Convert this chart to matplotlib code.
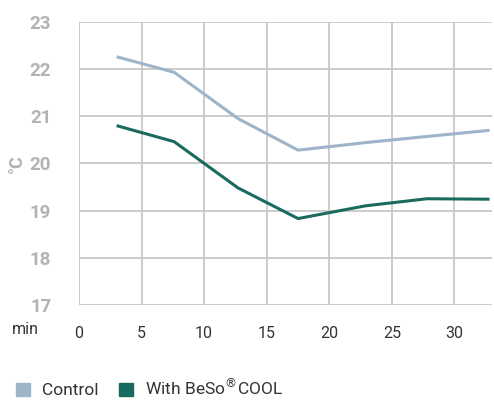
import matplotlib
matplotlib.use("Agg")
import matplotlib.pyplot as plt
from matplotlib.patches import Patch

minutes = [3, 7.6, 12.7, 17.5, 22.9, 27.8, 32.8]
control = [22.26, 21.93, 20.95, 20.28, 20.44, 20.57, 20.70]
beso = [20.80, 20.46, 19.48, 18.83, 19.10, 19.25, 19.24]
xticks = [0, 5, 10, 15, 20, 25, 30]
yticks = [17, 18, 19, 20, 21, 22, 23]

c_control = "#9db4c9"
c_beso = "#1b6a60"
grid_c = "#c8c8c8"

plt.rcParams['font.family'] = ['Roboto', 'DejaVu Sans']
fig = plt.figure(figsize=(4.94, 4.12), dpi=100)
ax = fig.add_axes([0.16, 0.26, 0.836, 0.687])
ax.plot(minutes, control, color=c_control, lw=2.2, solid_capstyle='butt')
ax.plot(minutes, beso, color=c_beso, lw=2.2, solid_capstyle='butt')
ax.set_xlim(0, 33)
ax.set_ylim(17, 23)
ax.set_xticks(xticks)
ax.set_yticks(yticks)
ax.grid(True, color=grid_c, lw=1.3)
ax.set_axisbelow(True)
for s in ax.spines.values():
    s.set_visible(False)
ax.tick_params(length=0)
ax.tick_params(axis='y', pad=20, labelsize=13.5, labelcolor="#b3b3b3")
ax.tick_params(axis='x', pad=15, labelsize=11.5, labelcolor="#333333")
for t in ax.get_yticklabels():
    t.set_fontweight('bold')
fig.text(0.035, 1 - 164/412, "°C", rotation=90, ha='center', va='center',
         fontsize=13, color="#b3b3b3", fontweight='bold')
fig.text(0.052, 1 - 330/412, "min", ha='center', va='center', fontsize=11.5, color="#333333")

handles = [Patch(color=c_control, label="Control"),
           Patch(color=c_beso, label="With BeSo$^{\\mathsf{®}}$COOL")]
fig.legend(handles=handles, loc='center left', bbox_to_anchor=(0.0, 1 - 388/412),
           ncol=2, frameon=False, fontsize=12.5, handlelength=0.8, handleheight=0.8,
           handletextpad=0.7, columnspacing=1.2, labelcolor="#333333")
fig.savefig("out.png", dpi=100)
